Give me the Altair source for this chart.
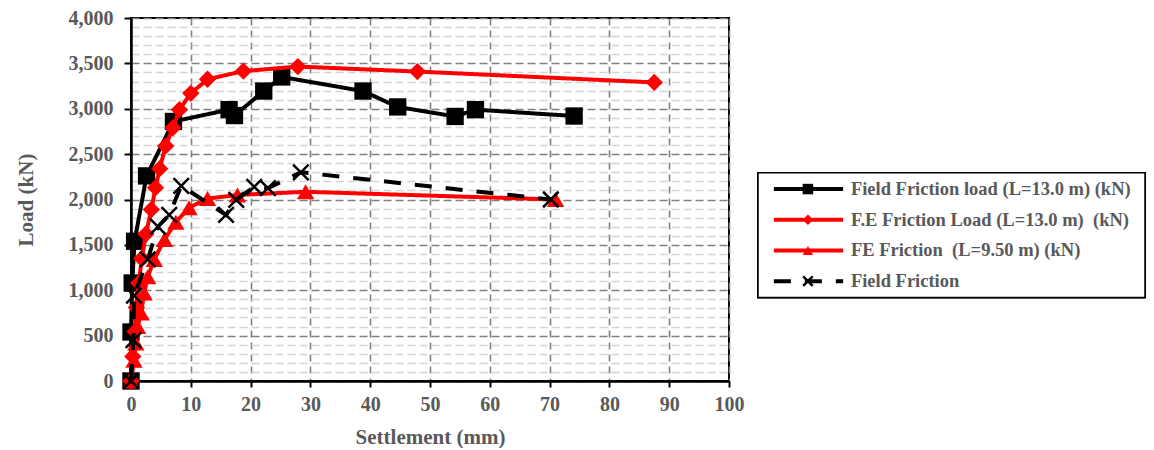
import altair as alt
import pandas as pd

# ---- data ----
field_load_x = [0, 0.0, 0.2, 0.6, 2.6, 7.1, 16.4, 17.3, 22.2, 25.2, 38.8, 44.6, 54.2, 57.6, 74.1]
field_load_y = [0, 540, 1080, 1540, 2260, 2860, 2990, 2925, 3195, 3350, 3195, 3020, 2915, 2990, 2920]

fe13_x = [0, 0.3, 0.6, 0.9, 1.3, 1.8, 2.5, 3.4, 4.1, 4.8, 5.8, 7.0, 8.1, 10.0, 12.8, 18.8, 27.9, 47.9, 87.5]
fe13_y = [0, 270, 540, 810, 1080, 1350, 1620, 1890, 2130, 2340, 2590, 2790, 2990, 3170, 3325, 3415, 3465, 3410, 3290]

fe95_x = [0, 0.5, 0.8, 1.1, 1.7, 2.2, 2.8, 3.9, 5.6, 7.5, 9.7, 12.8, 17.8, 29.2, 71.0]
fe95_y = [0, 230, 420, 600, 750, 970, 1150, 1340, 1560, 1750, 1910, 2010, 2050, 2085, 2000]

field_x = [0, 0.4, 0.5, 2.8, 4.5, 6.4, 8.4, 15.9, 17.6, 20.6, 22.9, 28.4, 70.2]
field_y = [0, 450, 940, 1340, 1700, 1830, 2150, 1830, 1995, 2140, 2125, 2300, 2000]

series_names = [
    "Field Friction load (L=13.0 m) (kN)",
    "F.E Friction Load (L=13.0 m)\u00a0 (kN)",
    "FE Friction \u00a0(L=9.50 m) (kN)",
    "Field Friction",
]
x_ticks = list(range(0, 101, 10))
y_ticks = list(range(0, 4001, 100))

# ---- styles ----
FONT = "Liberation Serif"
TXT = "#595959"
XPATH = "M-1,-1L1,1M-1,1L1,-1"
styles = [
    dict(color="black", dash=[1, 0], shape="square", filled=True),
    dict(color="#ff0000", dash=[1, 0], shape="diamond", filled=True),
    dict(color="#ff0000", dash=[1, 0], shape="triangle-up", filled=True),
    dict(color="black", dash=[17, 14], shape=XPATH, filled=False),
]
xs = [field_load_x, fe13_x, fe95_x, field_x]
ys = [field_load_y, fe13_y, fe95_y, field_y]

xscale = alt.Scale(domain=[0, 100], nice=False)
yscale = alt.Scale(domain=[0, 4000], nice=False)

xaxis = alt.Axis(
    values=x_ticks, title="Settlement (mm)", labelFont=FONT, labelFontSize=20,
    labelFontWeight="bold", labelColor=TXT, titleFont=FONT, titleFontSize=21,
    titleFontWeight="bold", titleColor=TXT, tickColor="black", tickWidth=2,
    tickSize=6, domainColor="black", domainWidth=2.5, labelPadding=7, titlePadding=12,
    grid=True, gridColor="#808080", gridDash=[7, 5], gridWidth=1.6, labelFlush=False,
)
yaxis = alt.Axis(
    values=y_ticks, title="Load (kN)", labelFont=FONT, labelFontSize=20,
    labelFontWeight="bold", labelColor=TXT, titleFont=FONT, titleFontSize=21,
    titleFontWeight="bold", titleColor=TXT, tickColor="black", tickWidth=2,
    tickSize=7, domainColor="black", domainWidth=2.5, labelPadding=11, titlePadding=32,
    labelOverlap=False,
    labelExpr="datum.value % 500 === 0 ? format(datum.value, ',') : ''",
    tickOpacity={"expr": "datum.value % 500 === 0 ? 1 : 0"},
    grid=True,
    gridColor={"expr": "datum.value % 500 === 0 ? '#808080' : '#d4d4d4'"},
    gridDash=[8, 4], gridWidth=1.6,
)

enc_x = alt.X("x:Q", scale=xscale, axis=xaxis)
enc_y = alt.Y("y:Q", scale=yscale, axis=yaxis)

layers = []
for i in range(4):
    df = pd.DataFrame({"x": xs[i], "y": ys[i], "idx": list(range(len(xs[i])))})
    st = styles[i]
    base = alt.Chart(df)
    line = base.mark_line(color=st["color"], strokeWidth=4, strokeDash=st["dash"]).encode(
        x=enc_x, y=enc_y, order=alt.Order("idx:Q")
    )
    if st["filled"]:
        pts = base.mark_point(shape=st["shape"], filled=True, color=st["color"], size=300, opacity=1)
    else:
        pts = base.mark_point(shape=st["shape"], filled=False, color=st["color"], size=240,
                              strokeWidth=2.5, opacity=1)
    pts = pts.encode(x=enc_x, y=enc_y)
    layers += [line, pts]

main = alt.layer(*layers).properties(width=598, height=363)

# ---- legend panel ----
lx = alt.Scale(domain=[0, 1], nice=False)
ly = alt.Scale(domain=[-5.57, 6.25], nice=False, reverse=True)
leg_df = pd.DataFrame({"row": list(range(4)), "label": series_names})
leg_layers = [
    alt.Chart(leg_df).mark_rect(fill="white", stroke="black", strokeWidth=1.5).encode(
        x=alt.datum(0, scale=lx, axis=None), x2=alt.datum(1),
        y=alt.datum(-0.53, scale=ly, axis=None), y2=alt.datum(3.53),
    )
]
for i in range(4):
    st = styles[i]
    sub = alt.Chart(leg_df).transform_filter(f"datum.row == {i}")
    leg_layers.append(
        sub.mark_rule(color=st["color"], strokeWidth=4, strokeDash=st["dash"]).encode(
            x=alt.datum(0.041, scale=lx, axis=None), x2=alt.datum(0.22),
            y=alt.Y("row:Q", scale=ly, axis=None),
        )
    )
    if st["filled"]:
        mk = sub.mark_point(shape=st["shape"], filled=True, color=st["color"], size=110, opacity=1)
    else:
        mk = sub.mark_point(shape=st["shape"], filled=False, color=st["color"], size=90,
                            strokeWidth=2.5, opacity=1)
    leg_layers.append(mk.encode(x=alt.datum(0.129, scale=lx, axis=None),
                                y=alt.Y("row:Q", scale=ly, axis=None)))
leg_layers.append(
    alt.Chart(leg_df).mark_text(font=FONT, fontSize=18.5, fontWeight="bold", color=TXT,
                                align="left", baseline="middle").encode(
        x=alt.datum(0.24, scale=lx, axis=None), y=alt.Y("row:Q", scale=ly, axis=None),
        text="label:N",
    )
)
legend = alt.layer(*leg_layers).properties(width=387, height=363, view=alt.ViewConfig(stroke=None))

chart = alt.hconcat(main, legend, spacing=29, bounds="flush").properties(
    padding={"left": 14, "top": 7, "right": 5, "bottom": 0},
    background="white",
).configure_view(stroke="black", strokeWidth=2)

chart.save("out.html", embed_options={"renderer": "svg", "actions": False})
